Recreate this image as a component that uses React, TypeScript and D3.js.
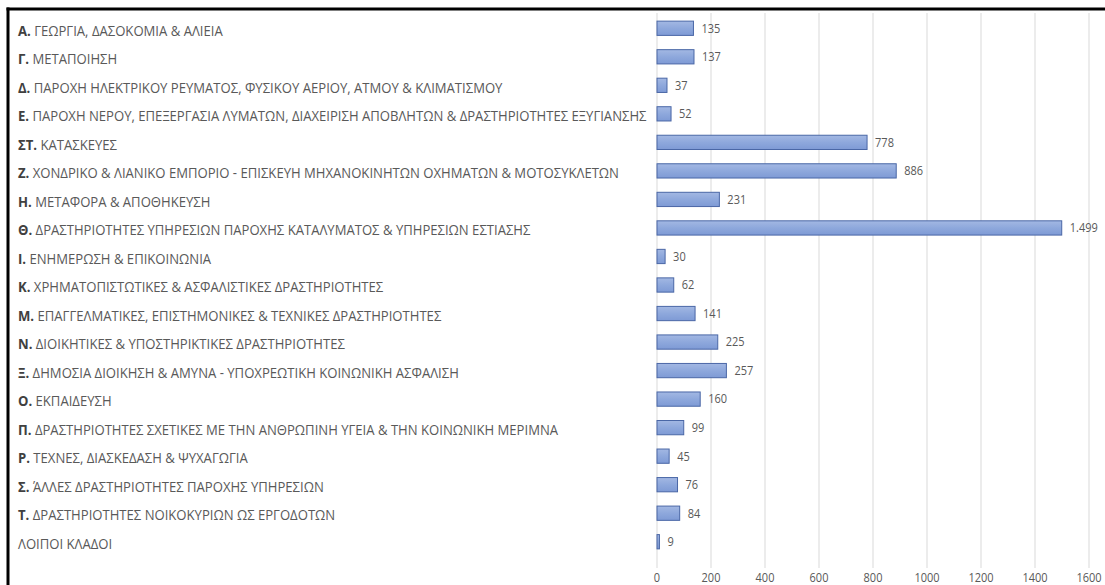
import React, { useLayoutEffect, useRef, useState } from "react";
import * as d3 from "d3";

const codes = ["Α.", "Γ.", "Δ.", "Ε.", "ΣΤ.", "Ζ.", "Η.", "Θ.", "Ι.", "Κ.", "Μ.", "Ν.", "Ξ.", "Ο.", "Π.", "Ρ.", "Σ.", "Τ.", ""];
const names = [
  "ΓΕΩΡΓΙΑ, ΔΑΣΟΚΟΜΙΑ & ΑΛΙΕΙΑ",
  "ΜΕΤΑΠΟΙΗΣΗ",
  "ΠΑΡΟΧΗ ΗΛΕΚΤΡΙΚΟΥ ΡΕΥΜΑΤΟΣ, ΦΥΣΙΚΟΥ ΑΕΡΙΟΥ, ΑΤΜΟΥ & ΚΛΙΜΑΤΙΣΜΟΥ",
  "ΠΑΡΟΧΗ ΝΕΡΟΥ, ΕΠΕΞΕΡΓΑΣΙΑ ΛΥΜΑΤΩΝ, ΔΙΑΧΕΙΡΙΣΗ ΑΠΟΒΛΗΤΩΝ & ΔΡΑΣΤΗΡΙΟΤΗΤΕΣ ΕΞΥΓΙΑΝΣΗΣ",
  "ΚΑΤΑΣΚΕΥΕΣ",
  "ΧΟΝΔΡΙΚΟ & ΛΙΑΝΙΚΟ ΕΜΠΟΡΙΟ - ΕΠΙΣΚΕΥΗ ΜΗΧΑΝΟΚΙΝΗΤΩΝ ΟΧΗΜΑΤΩΝ & ΜΟΤΟΣΥΚΛΕΤΩΝ",
  "ΜΕΤΑΦΟΡΑ & ΑΠΟΘΗΚΕΥΣΗ",
  "ΔΡΑΣΤΗΡΙΟΤΗΤΕΣ ΥΠΗΡΕΣΙΩΝ ΠΑΡΟΧΗΣ ΚΑΤΑΛΥΜΑΤΟΣ & ΥΠΗΡΕΣΙΩΝ ΕΣΤΙΑΣΗΣ",
  "ΕΝΗΜΕΡΩΣΗ & ΕΠΙΚΟΙΝΩΝΙΑ",
  "ΧΡΗΜΑΤΟΠΙΣΤΩΤΙΚΕΣ & ΑΣΦΑΛΙΣΤΙΚΕΣ ΔΡΑΣΤΗΡΙΟΤΗΤΕΣ",
  "ΕΠΑΓΓΕΛΜΑΤΙΚΕΣ, ΕΠΙΣΤΗΜΟΝΙΚΕΣ & ΤΕΧΝΙΚΕΣ ΔΡΑΣΤΗΡΙΟΤΗΤΕΣ",
  "ΔΙΟΙΚΗΤΙΚΕΣ & ΥΠΟΣΤΗΡΙΚΤΙΚΕΣ ΔΡΑΣΤΗΡΙΟΤΗΤΕΣ",
  "ΔΗΜΟΣΙΑ ΔΙΟΙΚΗΣΗ & ΑΜΥΝΑ - ΥΠΟΧΡΕΩΤΙΚΗ ΚΟΙΝΩΝΙΚΗ ΑΣΦΑΛΙΣΗ",
  "ΕΚΠΑΙΔΕΥΣΗ",
  "ΔΡΑΣΤΗΡΙΟΤΗΤΕΣ ΣΧΕΤΙΚΕΣ ΜΕ ΤΗΝ ΑΝΘΡΩΠΙΝΗ ΥΓΕΙΑ & ΤΗΝ ΚΟΙΝΩΝΙΚΗ ΜΕΡΙΜΝΑ",
  "ΤΕΧΝΕΣ, ΔΙΑΣΚΕΔΑΣΗ & ΨΥΧΑΓΩΓΙΑ",
  "ΆΛΛΕΣ ΔΡΑΣΤΗΡΙΟΤΗΤΕΣ ΠΑΡΟΧΗΣ ΥΠΗΡΕΣΙΩΝ",
  "ΔΡΑΣΤΗΡΙΟΤΗΤΕΣ ΝΟΙΚΟΚΥΡΙΩΝ ΩΣ ΕΡΓΟΔΟΤΩΝ",
  "ΛΟΙΠΟΙ ΚΛΑΔΟΙ",
];
const values = [135, 137, 37, 52, 778, 886, 231, 1499, 30, 62, 141, 225, 257, 160, 99, 45, 76, 84, 9];
const xTicks = [0, 200, 400, 600, 800, 1000, 1200, 1400, 1600];

const W = 1105;
const H = 585;
const FONT = "'Open Sans', 'DejaVu Sans', sans-serif";

export default function App() {
  const longestRef = useRef<SVGTextElement>(null);
  const [sx, setSx] = useState(0.78);

  useLayoutEffect(() => {
    if (longestRef.current) {
      const w = longestRef.current.getComputedTextLength();
      if (w > 0) setSx(628 / w);
    }
  }, []);

  const x = d3.scaleLinear().domain([0, 1600]).range([657, 1089]);
  const idx = names.map((_, i) => i);
  const y = d3.scaleBand<number>().domain(idx).range([14, 556]).paddingInner(0.5).paddingOuter(0.25);
  const fmt = d3.formatLocale({ decimal: ",", thousands: ".", grouping: [3], currency: ["€", ""] }).format(",d");
  const longestIdx = d3.maxIndex(names, (n, i) => (codes[i] + " " + n).length);

  return (
    <svg width={W} height={H} style={{ position: "absolute", left: 0, top: 0, background: "#fff" }} fontFamily={FONT}>
      <defs>
        <linearGradient id="barg" x1="0" y1="0" x2="0" y2="1">
          <stop offset="0" stopColor="#a3b8e3" />
          <stop offset="0.5" stopColor="#8ea8dc" />
          <stop offset="1" stopColor="#7e9ad5" />
        </linearGradient>
      </defs>
      <rect x={0} y={0} width={W} height={H} fill="#fff" />
      {/* gridlines */}
      {xTicks.map((t) => (
        <line key={t} x1={x(t)} x2={x(t)} y1={13} y2={568} stroke="#d9d9d9" strokeWidth={1} />
      ))}
      {/* bars */}
      {values.map((v, i) => (
        <rect
          key={i}
          x={x(0)}
          y={y(i)!}
          width={Math.max(1, x(v) - x(0))}
          height={y.bandwidth()}
          fill="url(#barg)"
          stroke="#4a67a6"
          strokeWidth={1}
        />
      ))}
      {/* value labels */}
      {values.map((v, i) => (
        <text
          key={i}
          transform={`translate(${x(v) + 8},${y(i)! + y.bandwidth() / 2}) scale(0.88,1)`}
          dy="0.35em"
          fontSize={12.5}
          fill="#595959"
        >
          {fmt(v)}
        </text>
      ))}
      {/* category labels */}
      <g transform={`translate(18,0) scale(${sx},1)`}>
        {names.map((n, i) => (
          <text
            key={i}
            ref={i === longestIdx ? longestRef : undefined}
            x={0}
            y={y(i)! + y.bandwidth() / 2 + 2}
            dy="0.35em"
            fontSize={15}
            fill="#595959"
          >
            {codes[i] ? (
              <tspan fontWeight="bold" fill="#404040">
                {codes[i] + " "}
              </tspan>
            ) : null}
            {n}
          </text>
        ))}
      </g>
      {/* x tick labels */}
      {xTicks.map((t) => (
        <text
          key={t}
          transform={`translate(${x(t)},578) scale(0.88,1)`}
          dy="0.35em"
          textAnchor="middle"
          fontSize={12.5}
          fill="#595959"
        >
          {t}
        </text>
      ))}
      {/* frame */}
      <line x1={6.5} x2={W} y1={9} y2={9} stroke="#000" strokeWidth={3} />
      <line x1={8} x2={8} y1={7.5} y2={H} stroke="#000" strokeWidth={3} />
    </svg>
  );
}
